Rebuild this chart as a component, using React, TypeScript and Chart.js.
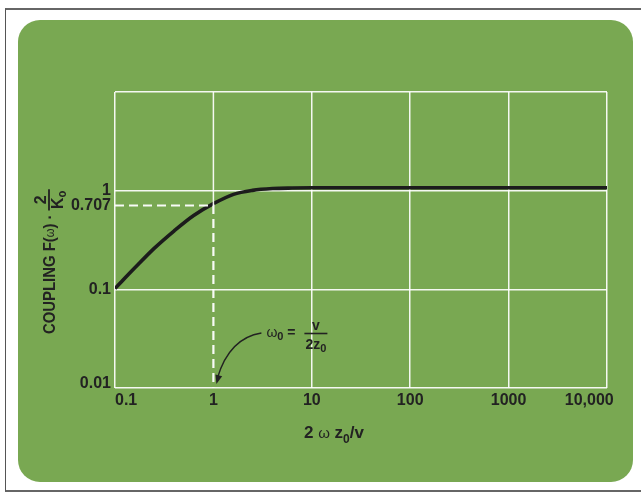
import React, { useEffect, useRef } from "react";
import { Chart, registerables } from "chart.js";

Chart.register(...registerables);

// ---- data ----
const xValues = [0.1, 0.16, 0.25, 0.4, 0.63, 1, 1.6, 2.5, 4, 6.3, 10, 100, 1000, 10000];
const couplingValues = [0.102, 0.166, 0.26, 0.392, 0.56, 0.738, 0.918, 1.007, 1.05, 1.064, 1.07, 1.07, 1.07, 1.07];
const cornerX = [0.1, 1, 1];
const cornerY = [0.707, 0.707, 0.01];
const upperGridX = [1, 1];
const upperGridY = [0.707, 10];
const xTickValues = [0.1, 1, 10, 100, 1000, 10000];
const xTickLabels = ["     0.1", "1", "10", "100", "1000", "10,000        "];
const yTickValues = [0.01, 0.1, 0.707, 1, 10];
const yTickLabels: (string | string[])[] = [["0.01", ""], "0.1", "0.707", "1", ""];
const arrowTarget = { x: 1, y: 0.01 };

const FONT = "'Liberation Sans', Arial, Helvetica, sans-serif";
const INK = "#222";
const GREEN = "#79a852";

type Part = { t: string; f: string; dy?: number };

function drawParts(ctx: CanvasRenderingContext2D, parts: Part[], x: number, y: number) {
  let cx = x;
  for (const p of parts) {
    ctx.font = p.f;
    ctx.fillText(p.t, cx, y + (p.dy || 0));
    cx += ctx.measureText(p.t).width;
  }
  return cx;
}
function partsWidth(ctx: CanvasRenderingContext2D, parts: Part[]) {
  let w = 0;
  for (const p of parts) {
    ctx.font = p.f;
    w += ctx.measureText(p.t).width;
  }
  return w;
}

const textPlugin = {
  id: "textPlugin",
  afterDraw(chart: any) {
    const ctx: CanvasRenderingContext2D = chart.ctx;
    const xs = chart.scales.x;
    const ys = chart.scales.y;
    ctx.save();
    ctx.fillStyle = INK;
    ctx.strokeStyle = INK;
    ctx.textAlign = "left";
    ctx.textBaseline = "alphabetic";

    // ---- y axis title (rotated) ----
    ctx.save();
    ctx.translate(55, 334);
    ctx.rotate(-Math.PI / 2);
    ctx.scale(0.93, 1);
    const end = drawParts(ctx, [
      { t: "COUPLING F(", f: `bold 16px ${FONT}` },
      { t: "ω", f: `12px ${FONT}`, dy: -1 },
      { t: ") · ", f: `bold 16px ${FONT}` },
    ], 0, 0);
    const numParts: Part[] = [{ t: "2", f: `bold 17px ${FONT}` }];
    const numW = partsWidth(ctx, numParts);
    const denParts: Part[] = [
      { t: "K", f: `bold 17px ${FONT}` },
      { t: "o", f: `bold 12px ${FONT}`, dy: 3 },
    ];
    const denW = partsWidth(ctx, denParts);
    const fw = Math.max(numW, denW) + 3;
    ctx.lineWidth = 1.8;
    ctx.beginPath();
    ctx.moveTo(end, -6);
    ctx.lineTo(end + fw, -6);
    ctx.stroke();
    drawParts(ctx, numParts, end + (fw - numW) / 2, -9);
    drawParts(ctx, denParts, end + (fw - denW) / 2, 8);
    ctx.restore();

    // ---- x axis title ----
    drawParts(ctx, [
      { t: "2 ", f: `bold 17px ${FONT}` },
      { t: "ω", f: `15px ${FONT}` },
      { t: " z", f: `bold 17px ${FONT}` },
      { t: "0", f: `bold 12px ${FONT}`, dy: 5 },
      { t: "/v", f: `bold 17px ${FONT}` },
    ], 304, 438);

    // ---- annotation ω0 = v / 2z0 ----
    const ax = xs.getPixelForValue(arrowTarget.x);
    const ay = ys.getPixelForValue(arrowTarget.y);
    drawParts(ctx, [
      { t: "ω", f: `14px ${FONT}` },
      { t: "0", f: `bold 11px ${FONT}`, dy: 3 },
      { t: " =", f: `bold 14px ${FONT}` },
    ], ax + 53, ay - 51);
    const fx0 = ax + 91, fx1 = ax + 114;
    ctx.lineWidth = 1.6;
    ctx.beginPath();
    ctx.moveTo(fx0, ay - 54.5);
    ctx.lineTo(fx1, ay - 54.5);
    ctx.stroke();
    ctx.font = `bold 14px ${FONT}`;
    const vw = ctx.measureText("v").width;
    ctx.fillText("v", (fx0 + fx1) / 2 - vw / 2, ay - 58);
    const dp: Part[] = [
      { t: "2z", f: `bold 14px ${FONT}` },
      { t: "0", f: `bold 11px ${FONT}`, dy: 3 },
    ];
    const dw = partsWidth(ctx, dp);
    drawParts(ctx, dp, (fx0 + fx1) / 2 - dw / 2, ay - 39);

    // ---- curved arrow ----
    const sx = ax + 48, sy = ay - 55;
    const cx = ax + 16, cy = ay - 50;
    const ex = ax + 3, ey = ay - 4;
    ctx.lineWidth = 1.4;
    ctx.beginPath();
    ctx.moveTo(sx, sy);
    ctx.quadraticCurveTo(cx, cy, ex + 1, ey - 6);
    ctx.stroke();
    const dxv = ex - cx, dyv = ey - cy;
    const len = Math.hypot(dxv, dyv);
    const ux = dxv / len, uy = dyv / len;
    const hl = 9, hw = 3.5;
    ctx.beginPath();
    ctx.moveTo(ex, ey);
    ctx.lineTo(ex - ux * hl - uy * hw, ey - uy * hl + ux * hw);
    ctx.lineTo(ex - ux * hl + uy * hw, ey - uy * hl - ux * hw);
    ctx.closePath();
    ctx.fill();

    ctx.restore();
  },
};

export default function App() {
  const ref = useRef<HTMLCanvasElement | null>(null);

  useEffect(() => {
    if (!ref.current) return;
    const white = "rgba(255,255,255,0.92)";
    const chart = new Chart(ref.current, {
      type: "line",
      data: {
        datasets: [
          {
            data: upperGridX.map((x, i) => ({ x, y: upperGridY[i] })),
            borderColor: white,
            borderWidth: 1.5,
            pointRadius: 0,
            tension: 0,
            fill: false,
          },
          {
            data: cornerX.map((x, i) => ({ x, y: cornerY[i] })),
            borderColor: "rgba(255,255,255,0.95)",
            borderWidth: 2.2,
            borderDash: [9, 5],
            pointRadius: 0,
            tension: 0,
            fill: false,
          },
          {
            data: xValues.map((x, i) => ({ x, y: couplingValues[i] })),
            borderColor: "#1c1c1c",
            borderWidth: 3.6,
            pointRadius: 0,
            cubicInterpolationMode: "monotone",
            fill: false,
          },
        ],
      },
      options: {
        animation: false,
        responsive: false,
        maintainAspectRatio: false,
        layout: { padding: { left: 0, right: 34, top: 92, bottom: 0 } },
        plugins: { legend: { display: false }, tooltip: { enabled: false } },
        scales: {
          x: {
            type: "logarithmic",
            min: 0.1,
            max: 10000,
            afterBuildTicks: (s: any) => {
              s.ticks = xTickValues.map((v) => ({ value: v }));
            },
            afterFit: (s: any) => {
              s.height = 105;
              s.paddingLeft = 0;
              s.paddingRight = 0;
            },
            ticks: {
              autoSkip: false,
              maxRotation: 0,
              padding: 3,
              color: INK,
              font: { family: FONT, size: 16, weight: "bold" },
              callback: (_v: any, i: number) => xTickLabels[i],
            },
            grid: {
              color: (c: any) => (c.tick && c.tick.value === 1 ? "rgba(0,0,0,0)" : white),
              lineWidth: 1.5,
              drawTicks: false,
            },
            border: { display: false },
          },
          y: {
            type: "logarithmic",
            min: 0.01,
            max: 10,
            afterBuildTicks: (s: any) => {
              s.ticks = yTickValues.map((v) => ({ value: v }));
            },
            afterFit: (s: any) => {
              s.width = 115;
              s.paddingTop = 0;
              s.paddingBottom = 0;
            },
            ticks: {
              autoSkip: false,
              padding: 4,
              color: INK,
              font: (c: any) =>
                c.tick && c.tick.value === 0.01
                  ? { family: FONT, size: 16, weight: "bold", lineHeight: 0.6 }
                  : { family: FONT, size: 16, weight: "bold" },
              callback: (_v: any, i: number) => yTickLabels[i],
            },
            grid: {
              color: (c: any) => (c.tick && c.tick.value === 0.707 ? "rgba(0,0,0,0)" : white),
              lineWidth: 1.5,
              drawTicks: false,
            },
            border: { display: false },
          },
        },
      } as any,
      plugins: [textPlugin],
    });
    return () => chart.destroy();
  }, []);

  return (
    <div style={{ position: "absolute", left: 0, top: 0, width: 641, height: 493, background: "#fff", overflow: "hidden" }}>
      <div style={{ position: "absolute", left: 5, top: 8, width: 650, height: 480, borderTop: "2px solid #666", borderLeft: "1.5px solid #555", borderBottom: "2px solid #666" }} />
      <div style={{ position: "absolute", left: 18, top: 20, width: 615, height: 462, background: GREEN, borderRadius: 22 }} />
      <canvas ref={ref} width={641} height={493} style={{ position: "absolute", left: 0, top: 0, width: 641, height: 493 }} />
    </div>
  );
}
